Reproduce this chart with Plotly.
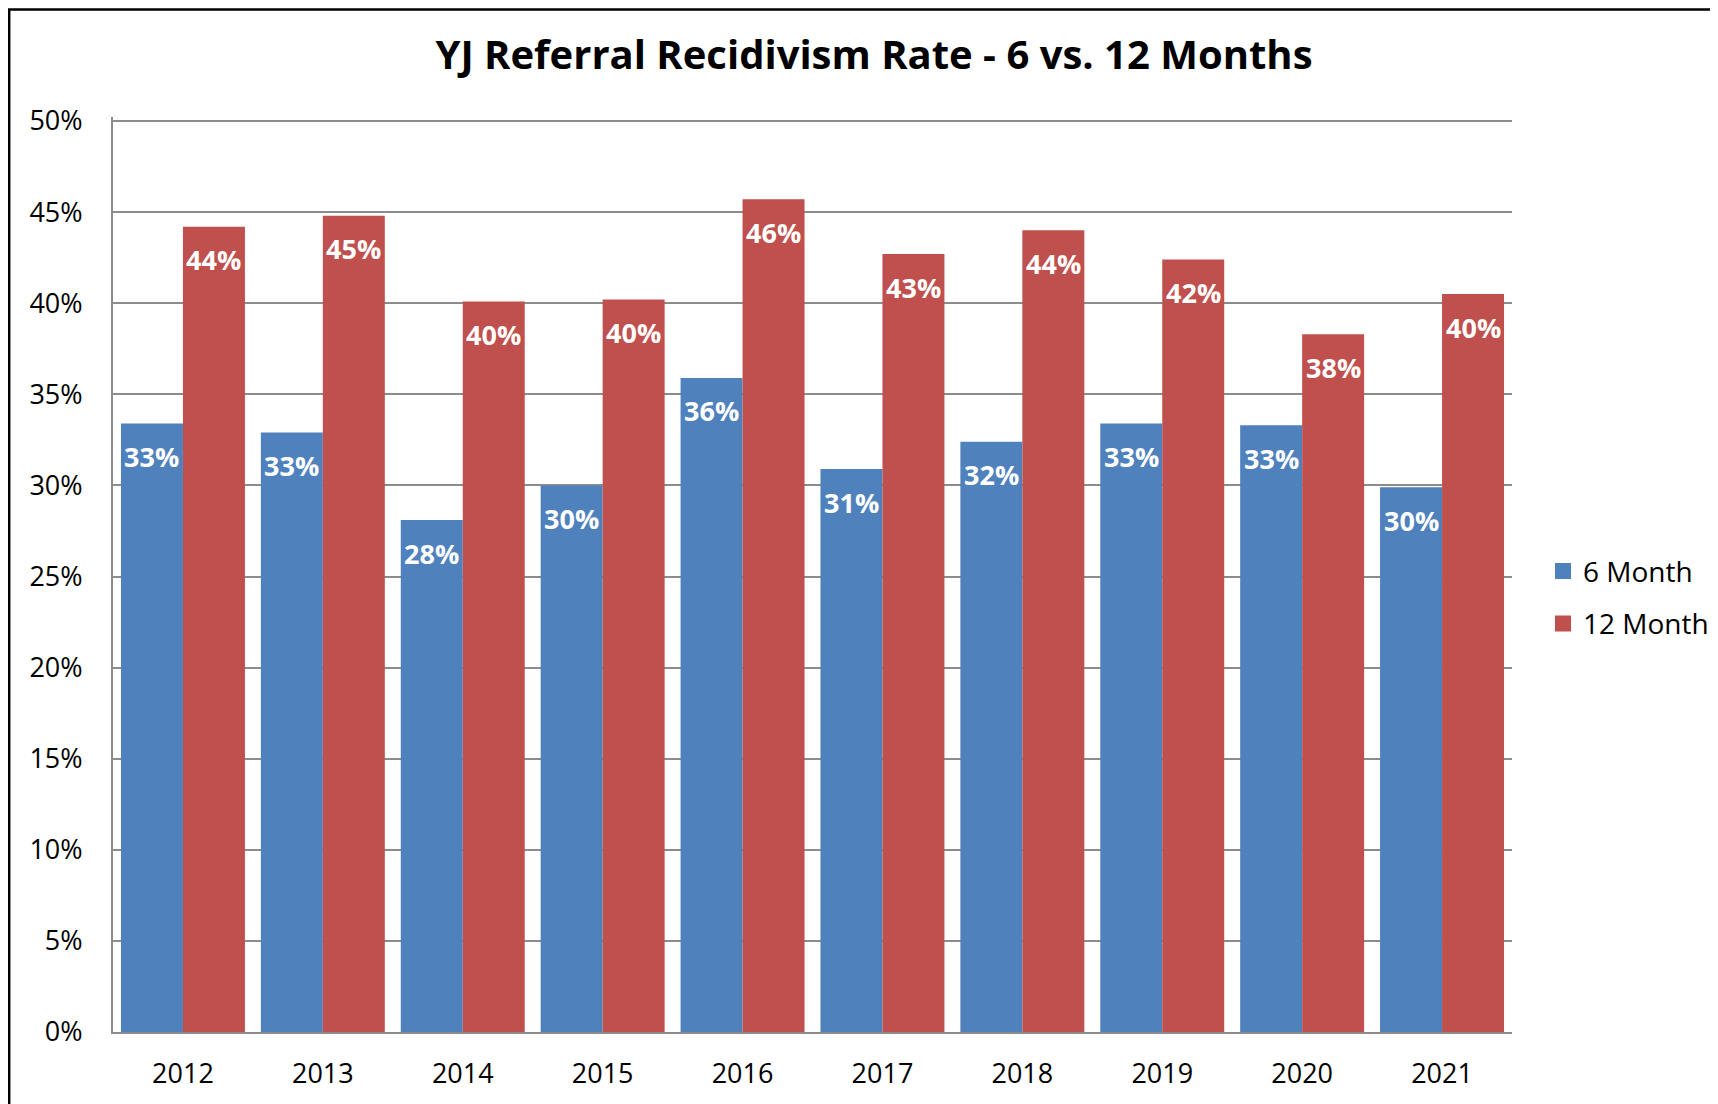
import plotly.graph_objects as go

years = ["2012", "2013", "2014", "2015", "2016", "2017", "2018", "2019", "2020", "2021"]
six_month = [0.334, 0.329, 0.281, 0.300, 0.359, 0.309, 0.324, 0.334, 0.333, 0.299]
twelve_month = [0.442, 0.448, 0.401, 0.402, 0.457, 0.427, 0.440, 0.424, 0.383, 0.405]
series_names = ["6 Month", "12 Month"]
colors = ["#4F81BD", "#C0504D"]
y_ticks = [i * 0.05 for i in range(11)]

FONT = "Open Sans"
PAGE_OFF = 8  # default body margin of the html page

fig = go.Figure()
for name, vals, col in zip(series_names, [six_month, twelve_month], colors):
    fig.add_trace(go.Bar(
        x=years, y=vals, name=name, marker=dict(color=col, line=dict(width=0)),
        showlegend=False, hoverinfo="x+y",
    ))
for name, col in zip(series_names, colors):
    # legend proxies with square markers
    fig.add_trace(go.Scatter(
        x=[years[0]], y=[None], mode="markers", name=name, legendgroup=name,
        marker=dict(symbol="square", size=18, color=col),
    ))

# data labels near the top inside each bar (category index positions)
bar_half = 31
for vals, dx in [(six_month, -bar_half), (twelve_month, bar_half)]:
    for i, v in enumerate(vals):
        fig.add_annotation(
            x=i, y=v, text=f"{round(v * 100):d}%", showarrow=False,
            xshift=dx, yshift=-33, yanchor="middle", xanchor="center",
            font=dict(family=FONT, size=27, color="white", weight="bold"),
        )

# plot area on screen; a few px of headroom above the 50% gridline so it is drawn
HEAD = 4
PL, PT, PW, PH = 113, 121 - HEAD, 1399, 911 + HEAD
FL, FT = PL - PAGE_OFF, PT - PAGE_OFF  # plot area inside the figure
y_top = 0.5 * PH / (PH - HEAD)

# outer chart border (figure coords: left at x=1, top at y=1.5)
fig.add_shape(type="rect", xref="paper", yref="paper",
              x0=(1.2 - FL) / PW, x1=(1760 - FL) / PW,
              y0=(FT + PH - 1140) / PH, y1=(FT + PH - 1.5) / PH,
              line=dict(color="black", width=2.5), fillcolor="rgba(0,0,0,0)", layer="below")

fig.update_layout(
    width=1718, height=1104,
    margin=dict(l=FL, r=1718 - FL - PW, t=FT, b=1104 - FT - PH, autoexpand=False),
    paper_bgcolor="white", plot_bgcolor="white",
    barmode="group", bargap=0.114, bargroupgap=0,
    title=dict(text="<b>YJ Referral Recidivism Rate - 6 vs. 12 Months</b>",
               x=(874 - PAGE_OFF) / 1718, xref="container", xanchor="center",
               y=1 - (55 - PAGE_OFF) / 1104, yref="container", yanchor="middle",
               font=dict(family=FONT, size=40, color="black")),
    font=dict(family=FONT, color="black"),
    legend=dict(x=(1543 - PL) / PW, xanchor="left", y=0.475, yanchor="middle",
                font=dict(family=FONT, size=28, color="black"),
                tracegroupgap=13, bgcolor="rgba(0,0,0,0)", itemsizing="trace"),
    xaxis=dict(type="category", categoryorder="array", categoryarray=years,
               range=[-0.5, len(years) - 0.5], autorange=False,
               showline=True, linecolor="#8C8C8C", linewidth=2, ticks="",
               tickfont=dict(family=FONT, size=27, color="black"),
               ticklabelstandoff=17, showgrid=False, automargin=False),
    yaxis=dict(range=[0, y_top], autorange=False, tickvals=y_ticks, tickformat=".0%",
               showline=True, linecolor="#8C8C8C", linewidth=2, ticks="",
               showgrid=True, gridcolor="#8C8C8C", gridwidth=1.5,
               tickfont=dict(family=FONT, size=27, color="black"),
               ticklabelstandoff=23, zeroline=False, automargin=False),
)

fig.write_html("out.html")
